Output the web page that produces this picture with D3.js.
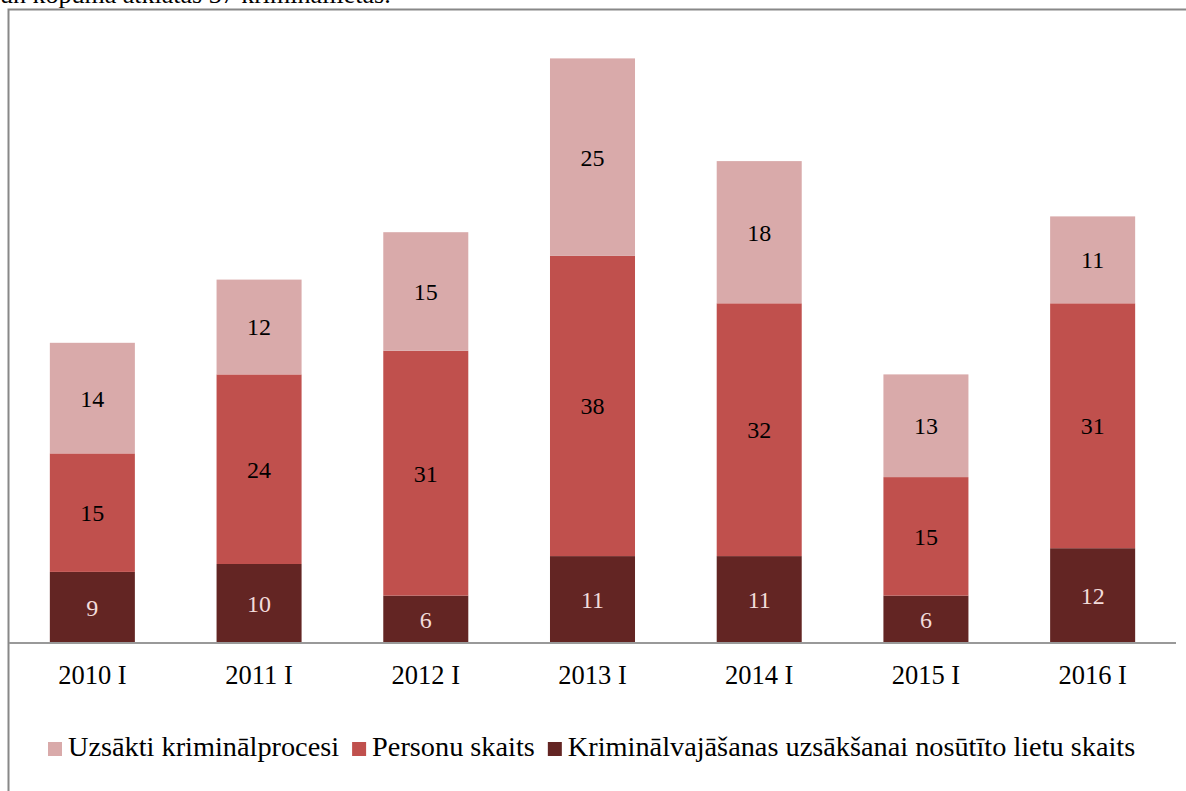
<!DOCTYPE html>
<html><head><meta charset="utf-8">
<script src="https://cdn.jsdelivr.net/npm/d3@7"></script>
<style>body{margin:0;background:#fff;} svg{display:block;}</style>
</head><body>
<svg id="c" width="1186" height="791"></svg>
<script>
const categories = ["2010 I","2011 I","2012 I","2013 I","2014 I","2015 I","2016 I"];
const kriminalvajasana = [9,10,6,11,11,6,12];
const personuSkaits = [15,24,31,38,32,15,31];
const uzsaktiProcesi = [14,12,15,25,18,13,11];
const seriesNames = ["Kriminālvajāšanas uzsākšanai nosūtīto lietu skaits","Personu skaits","Uzsākti kriminālprocesi"];
const legendOrder = ["Uzsākti kriminālprocesi","Personu skaits","Kriminālvajāšanas uzsākšanai nosūtīto lietu skaits"];
const colors = {"Kriminālvajāšanas uzsākšanai nosūtīto lietu skaits":"#632523","Personu skaits":"#C0504D","Uzsākti kriminālprocesi":"#D9AAAA"};
const labelColors = {"Kriminālvajāšanas uzsākšanai nosūtīto lietu skaits":"#F2DCDB","Personu skaits":"#000","Uzsākti kriminālprocesi":"#000"};

const rows = categories.map((c,i)=>({cat:c,
  [seriesNames[0]]:kriminalvajasana[i],[seriesNames[1]]:personuSkaits[i],[seriesNames[2]]:uzsaktiProcesi[i]}));
const stack = d3.stack().keys(seriesNames)(rows);

const svg = d3.select("#c");
const font = "'Liberation Serif','Times New Roman',serif";

// clipped text line at top (as in the reference)
svg.append("text").attr("x",0).attr("y",3).attr("font-family",font).attr("font-size",26)
  .attr("fill","#000").text("un kopumā atklātas 37 krimināllietas.");

// frame
svg.append("rect").attr("x",8.5).attr("y",9.5).attr("width",1200).attr("height",800)
  .attr("fill","none").attr("stroke","#888").attr("stroke-width",2);

const x = d3.scaleBand().domain(categories).range([9,1176]).paddingInner(0.49).paddingOuter(0.245);
const y = d3.scaleLinear().domain([0,80]).range([643,11]);

const g = svg.append("g");
stack.forEach(s=>{
  const key = s.key;
  const gg = g.append("g");
  gg.selectAll("rect").data(s).join("rect")
    .attr("x",d=>x(d.data.cat)).attr("width",x.bandwidth())
    .attr("y",d=>y(d[1])).attr("height",d=>y(d[0])-y(d[1]))
    .attr("fill",colors[key]);
  gg.selectAll("text").data(s).join("text")
    .attr("x",d=>x(d.data.cat)+x.bandwidth()/2)
    .attr("y",d=>(y(d[0])+y(d[1]))/2)
    .attr("dy","0.35em").attr("text-anchor","middle")
    .attr("font-family",font).attr("font-size",24)
    .attr("fill",labelColors[key]).text(d=>d[1]-d[0]);
});

// axis
const ax = svg.append("g").attr("transform","translate(0,643)")
  .call(d3.axisBottom(x).tickSize(0).tickPadding(0));
ax.select(".domain").attr("stroke","#999").attr("stroke-width",2).attr("d","M9,0H1176");
ax.selectAll("text").attr("font-family",font).attr("font-size",26.5).attr("fill","#000")
  .attr("dy",null).attr("y",41);

// legend
const lg = svg.append("g").attr("transform","translate(48,756)");
let lx = 0;
legendOrder.forEach(k=>{
  lg.append("rect").attr("x",lx).attr("y",-14).attr("width",14).attr("height",14).attr("fill",colors[k]);
  const t = lg.append("text").attr("x",lx+20).attr("y",0).attr("font-family",font)
    .attr("font-size",28.3).attr("fill","#000").text(k);
  lx += 20 + t.node().getComputedTextLength() + 13;
});
</script>
</body></html>
